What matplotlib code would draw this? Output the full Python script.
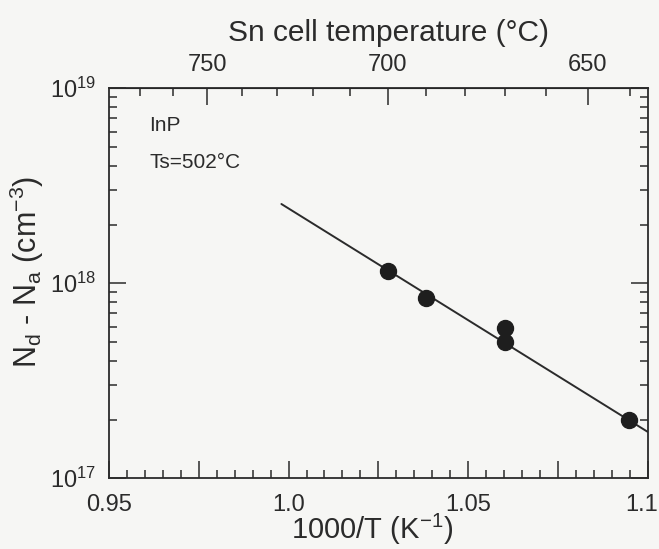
import matplotlib
matplotlib.use("Agg")
import matplotlib.pyplot as plt
import matplotlib.transforms as mtransforms
import numpy as np
from matplotlib.ticker import FixedLocator, FixedFormatter, LogLocator, NullFormatter, LogFormatterMathtext

# Sn doped InP, Ts = 502 C : carrier conc. vs Sn cell temperature
inv_t = [1.0276, 1.0382, 1.0602, 1.0602, 1.0947]      # 1000/T (1/K)
nd_na = [1.16e18, 8.4e17, 5.9e17, 5.0e17, 2.0e17]      # cm^-3
fit_x = [0.998, 1.1]
fit_y = [2.55e18, 1.73e17]

x_major = [0.95, 0.975, 1.0, 1.025, 1.05, 1.075, 1.1]
x_labels = ['0.95', '', '1.0', '', '1.05', '', '1.1']
t_major = [650, 700, 750]
t_minor = list(range(640, 780, 10))

ink = '#2b2b2b'
plt.rcParams['font.family'] = ['Liberation Sans', 'DejaVu Sans']
plt.rcParams['mathtext.fontset'] = 'custom'
plt.rcParams['mathtext.rm'] = 'Liberation Sans'
plt.rcParams['mathtext.it'] = 'Liberation Sans:italic'
plt.rcParams['text.color'] = ink
plt.rcParams['axes.labelcolor'] = ink
plt.rcParams['xtick.color'] = ink
plt.rcParams['ytick.color'] = ink

fig = plt.figure(figsize=(6.59, 5.49), dpi=100, facecolor='#f6f6f4')
ax = fig.add_axes([0.1654, 0.1288, 0.8175, 0.7104])
ax.set_facecolor('#f6f6f4')

ax.plot(fit_x, fit_y, color=ink, lw=1.4, solid_capstyle='round', zorder=2)
ax.plot(inv_t, nd_na, 'o', color='#1e1e1e', ms=11.5, zorder=3)

ax.set_yscale('log')
ax.set_xlim(0.95, 1.1)
ax.set_ylim(1e17, 1e19)

ax.xaxis.set_major_locator(FixedLocator(x_major))
ax.xaxis.set_major_formatter(FixedFormatter(x_labels))
ax.xaxis.set_minor_locator(FixedLocator(np.arange(0.95, 1.1001, 0.005)))
ax.yaxis.set_major_locator(LogLocator(base=10, numticks=5))
ax.yaxis.set_major_formatter(LogFormatterMathtext())
ax.yaxis.set_minor_locator(LogLocator(base=10, subs=np.arange(2, 10), numticks=20))
ax.yaxis.set_minor_formatter(NullFormatter())

ax.tick_params(which='both', direction='in', top=False, right=True, width=1.1)
ax.tick_params(which='major', length=12, labelsize=17)
ax.tick_params(which='minor', length=6)
ax.tick_params(axis='x', which='major', pad=11)
ax.tick_params(axis='y', which='major', pad=9)
for s in ax.spines.values():
    s.set_linewidth(1.3)
    s.set_color(ink)

sec = ax.secondary_xaxis('top', functions=(lambda x: 1000.0 / np.asarray(x, float) - 273.15,
                                           lambda t: 1000.0 / (np.asarray(t, float) + 273.15)))
sec.xaxis.set_major_locator(FixedLocator(t_major))
sec.xaxis.set_minor_locator(FixedLocator(t_minor))
sec.xaxis.set_minor_formatter(NullFormatter())
sec.tick_params(which='both', direction='in', width=1.1, labelsize=17)
sec.tick_params(which='major', length=12, pad=9)
sec.tick_params(which='minor', length=6)
sec.set_xlabel('Sn cell temperature (°C)', fontsize=21.5)
sec.xaxis.set_label_coords(0.518, 1.12, transform=ax.transAxes)

ax.set_xlabel(r'1000/T (K$^{\mathregular{-1}}$)', fontsize=21)
ax.xaxis.set_label_coords(0.489, -0.086)
ax.set_ylabel(r'N$_\mathregular{d}$ - N$_\mathregular{a}$ (cm$^{\mathregular{-3}}$)', fontsize=22)
ax.yaxis.set_label_coords(-0.117, 0.53)

# the last bottom label sits a bit left of its tick, as in the original
fig.canvas.draw()
last = ax.get_xticklabels()[-1]
last.set_transform(last.get_transform() + mtransforms.ScaledTranslation(-6 / 100, 0, fig.dpi_scale_trans))

ax.text(0.075, 0.89, 'InP', transform=ax.transAxes, fontsize=15)
ax.text(0.075, 0.795, 'Ts=502°C', transform=ax.transAxes, fontsize=15)

fig.savefig('out.png', dpi=100, facecolor=fig.get_facecolor())
